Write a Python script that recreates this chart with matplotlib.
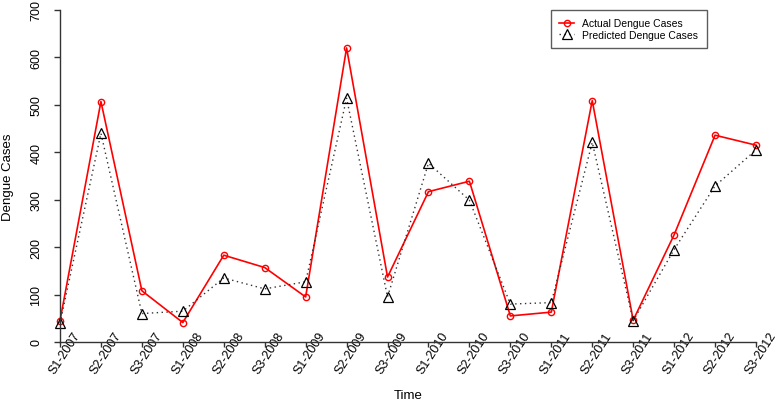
import matplotlib.pyplot as plt
from matplotlib.transforms import ScaledTranslation

plt.rcParams['font.family'] = ['Liberation Sans', 'DejaVu Sans']

periodos = ['S1-2007', 'S2-2007', 'S3-2007', 'S1-2008', 'S2-2008', 'S3-2008',
            'S1-2009', 'S2-2009', 'S3-2009', 'S1-2010', 'S2-2010', 'S3-2010',
            'S1-2011', 'S2-2011', 'S3-2011', 'S1-2012', 'S2-2012', 'S3-2012']
casos_reais = [45, 507, 108, 41, 183, 157, 95, 620, 137, 317, 339, 55,
               63, 509, 46, 226, 436, 415]
casos_previstos = [40, 440, 60, 65, 135, 112, 127, 514, 95, 377, 299, 80,
                   83, 421, 45, 195, 329, 405]
y_ticks = [0, 100, 200, 300, 400, 500, 600, 700]

fig = plt.figure(figsize=(7.78, 4.02), dpi=100)
ax = fig.add_axes([60 / 778, 1 - 343 / 402, 696 / 778, 332 / 402])

x = list(range(len(periodos)))
ax.plot(x, casos_reais, color='#ff0000', lw=1.2, marker='o', ms=4.5,
        mfc='none', mew=1.0, clip_on=False, label='Actual Dengue Cases')
ax.plot(x, casos_previstos, color='#333333', lw=1.0, ls=(0, (1, 2.5)),
        marker='^', ms=6.5, mfc='none', mec='black', mew=0.9, clip_on=False,
        label='Predicted Dengue Cases')

ax.set_xlim(0, len(periodos) - 1)
ax.set_ylim(0, 700)
for lado in ['top', 'right']:
    ax.spines[lado].set_visible(False)
for lado in ['left', 'bottom']:
    ax.spines[lado].set_color('#333333')
    ax.spines[lado].set_linewidth(1.0)

ax.set_yticks(y_ticks)
ax.set_yticklabels([str(v) for v in y_ticks], rotation=90, va='center', fontsize=9)
ax.tick_params(axis='y', length=4.3, width=1, color='#333333', pad=8.5)

ax.set_xticks(x)
ax.set_xticklabels(periodos, fontsize=9, rotation=57, ha='center', va='center',
                   rotation_mode='anchor')
ax.tick_params(axis='x', length=3.6, width=1, color='#333333', pad=0)
desloc = ScaledTranslation(4.5 / 100, -6 / 100, fig.dpi_scale_trans)
for lab in ax.get_xticklabels():
    lab.set_transform(lab.get_transform() + desloc)

ax.set_ylabel('Dengue Cases', fontsize=9.5)
ax.yaxis.set_label_coords(-0.066, 0.5)
ax.set_xlabel('Time', fontsize=9.5, va='top')
ax.xaxis.set_label_coords(0.5, -0.141)

leg = ax.legend(loc='upper left', bbox_to_anchor=(491 / 696, 1.0), fontsize=7.5,
                frameon=True, fancybox=False, edgecolor='#333333',
                handlelength=1.4, handletextpad=0.8, borderpad=0.8,
                labelspacing=0.15, borderaxespad=0)
leg.get_frame().set_linewidth(1.0)

fig.savefig('out.png', dpi=100)
